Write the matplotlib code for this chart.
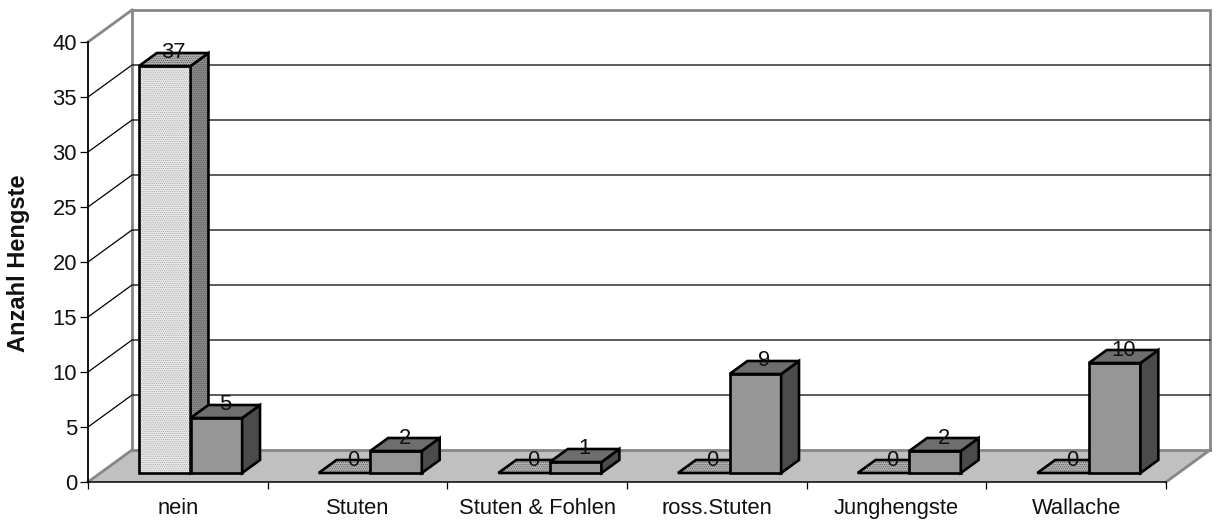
import matplotlib
matplotlib.use('Agg')
import matplotlib.pyplot as plt
from matplotlib.patches import Polygon

plt.rcParams['font.family'] = ['Liberation Sans', 'DejaVu Sans']
plt.rcParams['hatch.linewidth'] = 0.4

categories = ['nein', 'Stuten', 'Stuten & Fohlen', 'ross.Stuten', 'Junghengste', 'Wallache']
series_a = [37, 0, 0, 0, 0, 0]
series_b = [5, 2, 1, 9, 2, 10]
y_ticks = [0, 5, 10, 15, 20, 25, 30, 35, 40]

# depth of the floor in axis units (category widths / values)
DEPTH_X = 44 / (1078 / 6)
DEPTH_Y = 32 / 11
BAR_W = 0.287
BAR_START = 0.215
BAR_NEAR = 9 / 32
BAR_FAR = 22 / 32

fig = plt.figure(figsize=(12.18, 5.22), dpi=100)
ax = fig.add_axes([88 / 1218, 40 / 522, 1078 / 1218, 440 / 522])
ax.set_xlim(0, 6)
ax.set_ylim(0, 40)
ax.patch.set_visible(False)


def proj(x, y, d):
    return (x + d * DEPTH_X, y + d * DEPTH_Y)


def face(points, color, stipple=None, lw=1.9, z=3):
    if stipple:
        ax.add_patch(Polygon(points, closed=True, facecolor=color, edgecolor=stipple, hatch='........',
                             lw=0, clip_on=False, zorder=z))
        color = 'none'
    ax.add_patch(Polygon(points, closed=True, facecolor=color, edgecolor='black', lw=lw,
                         joinstyle='miter', clip_on=False, zorder=z))


def bar3d(x, v, front, top, side, z, stipple=False):
    x2 = x + BAR_W
    dots = '#9a9a9a' if stipple else None
    dots2 = '#4a4a4a' if stipple else None
    if v > 0:
        face([proj(x, 0, BAR_NEAR), proj(x2, 0, BAR_NEAR), proj(x2, v, BAR_NEAR), proj(x, v, BAR_NEAR)],
             front, dots, z=z)
        face([proj(x2, 0, BAR_NEAR), proj(x2, 0, BAR_FAR), proj(x2, v, BAR_FAR), proj(x2, v, BAR_NEAR)],
             side, dots2, z=z)
    face([proj(x, v, BAR_NEAR), proj(x2, v, BAR_NEAR), proj(x2, v, BAR_FAR), proj(x, v, BAR_FAR)],
         top, dots2, z=z)
    lx = proj(x + BAR_W / 2, v, (BAR_NEAR + BAR_FAR) / 2)[0]
    ly = proj(x, v, BAR_FAR)[1]
    ax.text(lx, ly, str(v), ha='center', va='center', fontsize=15.8, color='#111111', clip_on=False, zorder=20)


# back wall and floor
wall_gray = '#868686'
ax.add_patch(Polygon([proj(0, 0, 0), proj(6, 0, 0), proj(6, 0, 1), proj(0, 0, 1)], closed=True,
                     facecolor='#c0c0c0', edgecolor='none', clip_on=False, zorder=1))
ax.plot([DEPTH_X, DEPTH_X + 6, DEPTH_X + 6], [DEPTH_Y + 40, DEPTH_Y + 40, DEPTH_Y], color=wall_gray,
        lw=2, clip_on=False, zorder=1.2, solid_joinstyle='miter')
ax.plot([DEPTH_X, DEPTH_X], [DEPTH_Y, DEPTH_Y + 40], color=wall_gray, lw=2, clip_on=False, zorder=1.2)
ax.plot([DEPTH_X, DEPTH_X + 6], [DEPTH_Y, DEPTH_Y], color=wall_gray, lw=2, clip_on=False, zorder=1.2)
ax.plot([0, DEPTH_X], [0, DEPTH_Y], color=wall_gray, lw=2, clip_on=False, zorder=1.2)
ax.plot([6, 6 + DEPTH_X], [0, DEPTH_Y], color=wall_gray, lw=2, clip_on=False, zorder=1.2)
ax.plot([0, DEPTH_X], [40, 40 + DEPTH_Y], color=wall_gray, lw=2, clip_on=False, zorder=1.2)

# gridlines on the side wall and back wall
for t in y_ticks[1:-1]:
    ax.plot([0, DEPTH_X, DEPTH_X + 6], [t, t + DEPTH_Y, t + DEPTH_Y], color='black', lw=0.9,
            clip_on=False, zorder=1.5)

for i in range(len(categories)):
    x = i + BAR_START
    bar3d(x, series_a[i], '#e8e8e8', '#b0b0b0', '#8a8a8a', 3 + i * 0.1, stipple=True)
    bar3d(x + BAR_W, series_b[i], '#969696', '#6e6e6e', '#4b4b4b', 3.05 + i * 0.1)

for s in ['top', 'right']:
    ax.spines[s].set_visible(False)
ax.spines['left'].set_linewidth(1.3)
ax.spines['bottom'].set_linewidth(1.1)

ax.set_yticks(y_ticks)
ax.set_xticks(range(7))
ax.set_xticklabels([])
ax.set_xticks([i + 0.5 for i in range(6)], minor=True)
ax.set_xticklabels(categories, minor=True)
ax.tick_params(axis='y', length=5.5, width=0.9, labelsize=15.8, pad=2.5, labelcolor='#111111')
ax.tick_params(axis='x', which='major', length=5, width=0.9)
ax.tick_params(axis='x', which='minor', length=0, labelsize=15.8, pad=11.5, labelcolor='#111111')
ax.set_ylabel('Anzahl Hengste', fontsize=17, fontweight='bold', color='#111111')
ax.yaxis.set_label_coords(-0.0535, 0.497)

fig.savefig('out.png', dpi=100)
